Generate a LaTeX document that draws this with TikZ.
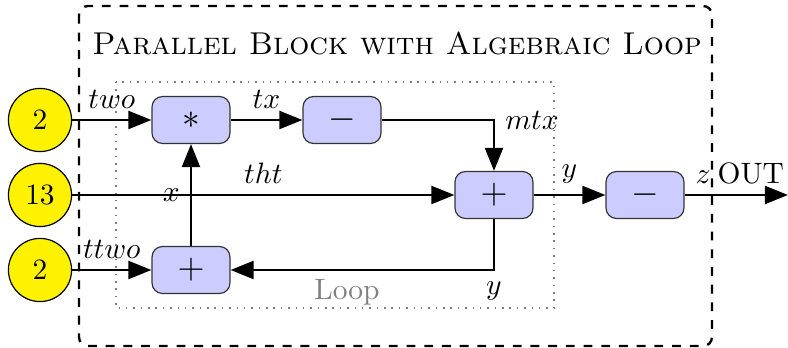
\documentclass[tikz,border=0pt]{standalone}
\usetikzlibrary{arrows.meta}
\begin{document}
\begin{tikzpicture}[x=0.339pt,y=-0.339pt,
  src/.style={circle,draw=black,fill=yellow,minimum size=21.4pt,inner sep=0pt},
  blk/.style={rectangle,rounded corners=3.5pt,draw=black!80,fill=blue!20,minimum width=26.4pt,minimum height=15.9pt,inner sep=0pt,font=\large},
  arr/.style={line width=1pt,-{Triangle[length=7.8pt,width=6pt]}},
  outerbox/.style={dashed,line width=0.8pt,rounded corners=3pt},
  loopbox/.style={dotted,draw=black!50,line width=0.5pt}]
\useasboundingbox (0,0) rectangle (788,348);
% frames
\draw[outerbox] (79,6) rectangle (712,346);
\draw[loopbox] (116,82) rectangle (554,308);
\node[anchor=base,font=\fontsize{10.7pt}{13pt}\selectfont] (title) at (397,55) {\textsc{Parallel Block with Algebraic Loop}};
\node[text=black!50] (looplbl) at (347,292) {Loop};
% sources
\node[src] (c1) at (40,120) {2};
\node[src] (c2) at (40,195) {13};
\node[src] (c3) at (40,270) {2};
% blocks
\node[blk] (mul) at (191,120) {$*$};
\node[blk] (neg1) at (342,120) {$-$};
\node[blk] (add2) at (191,270) {$+$};
\node[blk] (add1) at (494,195) {$+$};
\node[blk] (neg2) at (645,195) {$-$};
\coordinate (out) at (788,195);
% connectors
\draw[arr] (c1) -- node[above]{$two$} (mul);
\draw[arr] (mul) -- node[above]{$tx$} (neg1);
\draw[arr] (neg1) -| node[pos=0.5,right]{$mtx$} (add1);
\draw[arr] (c2) -- node[above]{$tht$} (add1);
\draw[arr] (c3) -- node[above]{$ttwo$} (add2);
\draw[arr] (add2) -- node[left]{$x$} (mul);
\draw[arr] (add1) |- node[pos=0.5,below]{$y$} (add2);
\draw[arr] (add1) -- node[above]{$y$} (neg2);
\draw[arr] (neg2) -- node[pos=0.18,above]{$z$} node[pos=0.64,above]{OUT} (out);
\end{tikzpicture}
\end{document}
